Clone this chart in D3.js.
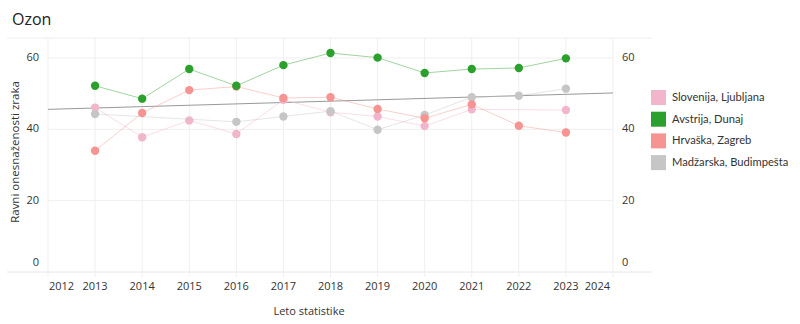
<!DOCTYPE html>
<html>
<head>
<meta charset="utf-8">
<script src="https://cdn.jsdelivr.net/npm/d3@7"></script>
<style>
  body { margin: 0; background: #fff; }
  text { font-family: "Open Sans", sans-serif; fill: #333; }
  .legend text { font-family: Lato, sans-serif; }
</style>
</head>
<body>
<svg id="chart"></svg>
<script>
// Data
const years = [2013, 2014, 2015, 2016, 2017, 2018, 2019, 2020, 2021, 2022, 2023];
const seriesNames = ["Slovenija, Ljubljana", "Avstrija, Dunaj", "Hrvaška, Zagreb", "Madžarska, Budimpešta"];
const seriesColors = ["#f2b6cc", "#2ca02c", "#f59491", "#c6c6c6"];
const ljubljana = [46.1, 37.8, 42.5, 38.7, 48.3, 44.8, 43.6, 40.9, 45.6, null, 45.4];
const dunaj = [52.2, 48.6, 56.9, 52.2, 58.0, 61.4, 60.1, 55.8, 56.9, 57.2, 59.9];
const zagreb = [34.0, 44.6, 51.0, 52.0, 48.8, 49.0, 45.7, 43.1, 47.0, 41.0, 39.1];
const budimpesta = [44.3, null, null, 42.1, 43.6, 45.1, 39.9, 44.0, 49.0, 49.4, 51.4];
const xTicks = [2012, 2013, 2014, 2015, 2016, 2017, 2018, 2019, 2020, 2021, 2022, 2023, 2024];
const yTicks = [0, 20, 40, 60];
const trendYears = [2012, 2024];
const trendValues = [45.6, 50.2];

const allSeries = [ljubljana, dunaj, zagreb, budimpesta];
// drawing order, bottom to top
const drawOrder = [0, 3, 2, 1];

const width = 800, height = 324;
const plot = {left: 48, right: 613, top: 38, bottom: 272};

const svg = d3.select("#chart")
  .attr("width", width)
  .attr("height", height);

// Scales
const xScale = d3.scaleLinear()
  .domain([2012, 2024])
  .range([plot.left, plot.right]);

const yScale = d3.scaleLinear()
  .domain([0, 60])
  .range([plot.bottom, 58]);

// Title
svg.append("text")
  .attr("x", 12)
  .attr("y", 25)
  .style("font-size", "16px")
  .style("fill", "#222")
  .text("Ozon");

// Frame lines top and bottom
svg.append("line")
  .attr("x1", 7).attr("x2", 652)
  .attr("y1", plot.top).attr("y2", plot.top)
  .attr("stroke", "#eeeeee");

svg.append("line")
  .attr("x1", 7).attr("x2", 652)
  .attr("y1", plot.bottom).attr("y2", plot.bottom)
  .attr("stroke", "#e6e6e6");

// Vertical grid
svg.append("g")
  .selectAll("line")
  .data(xTicks)
  .enter().append("line")
  .attr("x1", d => xScale(d)).attr("x2", d => xScale(d))
  .attr("y1", plot.top).attr("y2", plot.bottom + 5)
  .attr("stroke", "#efefef");

// Horizontal grid
svg.append("g")
  .selectAll("line")
  .data(yTicks.filter(d => d > 0))
  .enter().append("line")
  .attr("x1", plot.left).attr("x2", plot.right)
  .attr("y1", d => yScale(d)).attr("y2", d => yScale(d))
  .attr("stroke", "#efefef");

// Y tick labels left and right (0 is pushed up a little)
const yLab = d => d === 0 ? yScale(d) - 9 : yScale(d);
svg.append("g")
  .selectAll("text")
  .data(yTicks)
  .enter().append("text")
  .attr("x", 39)
  .attr("y", yLab)
  .attr("text-anchor", "end")
  .attr("dominant-baseline", "middle")
  .style("font-size", "11px")
  .text(d => d);

svg.append("g")
  .selectAll("text")
  .data(yTicks)
  .enter().append("text")
  .attr("x", 622)
  .attr("y", yLab)
  .attr("dominant-baseline", "middle")
  .style("font-size", "11px")
  .text(d => d);

// X tick labels (edge labels kept inside)
svg.append("g")
  .selectAll("text")
  .data(xTicks)
  .enter().append("text")
  .attr("x", d => d === 2012 ? xScale(d) + 1 : d === 2024 ? xScale(d) - 3 : xScale(d))
  .attr("y", 290)
  .attr("text-anchor", d => d === 2012 ? "start" : d === 2024 ? "end" : "middle")
  .style("font-size", "11px")
  .text(d => d);

// Axis titles
svg.append("text")
  .attr("transform", "translate(19,152) rotate(-90)")
  .attr("text-anchor", "middle")
  .style("font-size", "11.5px")
  .text("Ravni onesnaženosti zraka");

svg.append("text")
  .attr("x", 309)
  .attr("y", 315)
  .attr("text-anchor", "middle")
  .style("font-size", "11px")
  .text("Leto statistike");

// Trend line
svg.append("line")
  .attr("x1", xScale(trendYears[0])).attr("x2", xScale(trendYears[1]))
  .attr("y1", yScale(trendValues[0])).attr("y2", yScale(trendValues[1]))
  .attr("stroke", "#999")
  .attr("stroke-width", 1);

// Lines and points
const line = d3.line()
  .x(d => xScale(d.year))
  .y(d => yScale(d.value));

drawOrder.forEach(function(i) {
  const pts = years.map((y, j) => ({year: y, value: allSeries[i][j]}))
    .filter(d => d.value !== null);
  const g = svg.append("g");
  g.append("path")
    .datum(pts)
    .attr("d", line)
    .attr("fill", "none")
    .attr("stroke", seriesColors[i])
    .attr("stroke-opacity", 0.45)
    .attr("stroke-width", 1);
  g.selectAll("circle")
    .data(pts)
    .enter().append("circle")
    .attr("cx", d => xScale(d.year))
    .attr("cy", d => yScale(d.value))
    .attr("r", 4.2)
    .attr("fill", seriesColors[i]);
});

// Legend
const legend = svg.selectAll(".legend")
  .data(seriesNames)
  .enter().append("g")
  .attr("class", "legend")
  .attr("transform", (d, i) => "translate(651," + (90 + i * 21.7) + ")");

legend.append("rect")
  .attr("width", 15)
  .attr("height", 15)
  .attr("fill", (d, i) => seriesColors[i]);

legend.append("text")
  .attr("x", 21)
  .attr("y", 8)
  .attr("dominant-baseline", "middle")
  .style("font-size", "11.2px")
  .text(d => d);
</script>
</body>
</html>
